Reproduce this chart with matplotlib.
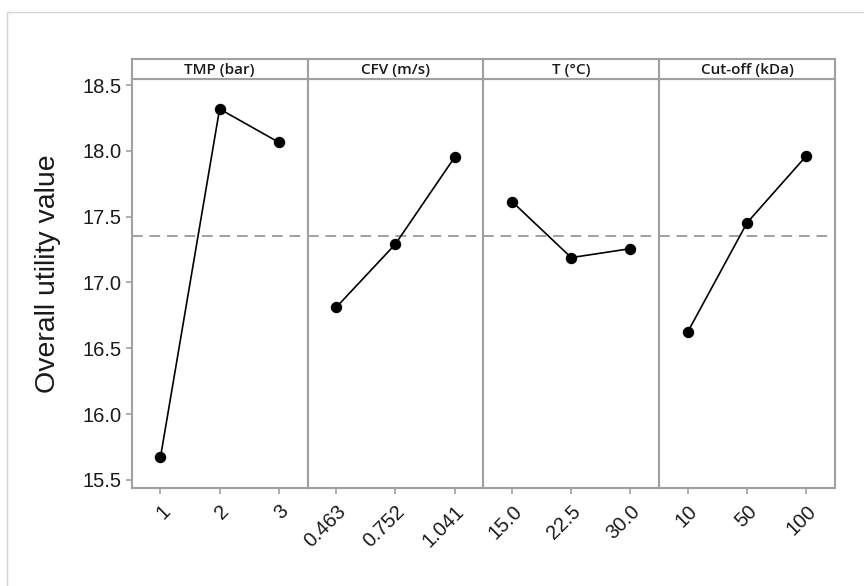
import matplotlib
matplotlib.use("Agg")
import matplotlib.pyplot as plt
from matplotlib.patches import Rectangle
import numpy as np

# ---- data ----
factors = ["TMP (bar)", "CFV (m/s)", "T (°C)", "Cut-off (kDa)"]
tmp_levels = ["1", "2", "3"]
cfv_levels = ["0.463", "0.752", "1.041"]
t_levels = ["15.0", "22.5", "30.0"]
cut_levels = ["10", "50", "100"]
tmp_means = [15.672, 18.318, 18.065]
cfv_means = [16.812, 17.292, 17.951]
t_means = [17.614, 17.189, 17.257]
cut_means = [16.627, 17.454, 17.961]
y_ticks = [15.5, 16.0, 16.5, 17.0, 17.5, 18.0, 18.5]
y_label = "Overall utility value"

levels = [tmp_levels, cfv_levels, t_levels, cut_levels]
means = [tmp_means, cfv_means, t_means, cut_means]
grand_mean = float(np.mean(np.concatenate([np.array(m) for m in means])))

W, H = 864, 586
fig = plt.figure(figsize=(W / 100, H / 100), dpi=100)

spine_col = "#a0a0a0"
text_col = "#1a1a1a"

left_px, right_px = 131.7, 835.0
top_px, bot_px = 79.0, 488.0
strip_top = 59.0
pw = (right_px - left_px) / 4

fig.add_artist(Rectangle((7 / W, -0.1), 1.2, 1 - 12 / H + 0.1,
                         transform=fig.transFigure, fill=False,
                         edgecolor="#d4d4d4", lw=1.0))

axes = []
for i in range(4):
    x0 = left_px + i * pw
    ax = fig.add_axes([x0 / W, 1 - bot_px / H, pw / W, (bot_px - top_px) / H])
    xs = np.arange(len(levels[i]))
    ax.axhline(grand_mean, color=spine_col, lw=1.4, ls=(0, (5.5, 3.5)), zorder=1)
    ax.plot(xs, means[i], color="black", lw=1.2, marker="o", ms=7.2,
            markerfacecolor="black", markeredgecolor="black", zorder=3)
    ax.set_xlim(-0.486, 2.486)
    ax.set_ylim(15.4392, 18.5456)
    ax.set_xticks(xs)
    ax.set_xticklabels(levels[i], rotation=45, ha="right", va="top",
                       rotation_mode="anchor", fontsize=14.5, color=text_col,
                       family="Liberation Sans")
    ax.tick_params(axis="x", direction="out", length=4, width=1.2,
                   color=spine_col, pad=6)
    if i == 0:
        ax.set_yticks(y_ticks)
        ax.set_yticklabels([f"{v:.1f}" for v in y_ticks], fontsize=14.5,
                           color=text_col, family="Liberation Sans")
        ax.tick_params(axis="y", direction="out", length=4, width=1.2,
                       color=spine_col, pad=3)
    else:
        ax.set_yticks([])
    for s in ax.spines.values():
        s.set_color(spine_col)
        s.set_linewidth(1.5)
    axes.append(ax)

    sax = fig.add_axes([x0 / W, 1 - top_px / H, pw / W, (top_px - strip_top) / H])
    sax.set_xticks([])
    sax.set_yticks([])
    for s in sax.spines.values():
        s.set_color(spine_col)
        s.set_linewidth(1.5)
    sax.text(0.5, 0.47, factors[i], ha="center", va="center", fontsize=11,
             fontweight="semibold", family="Open Sans", color=text_col,
             transform=sax.transAxes)

fig.text(48 / W, 1 - 273.5 / H, y_label, rotation=90, ha="center", va="center",
         fontsize=20.5, color=text_col, family="Liberation Sans")

fig.savefig("out.png", dpi=100)
